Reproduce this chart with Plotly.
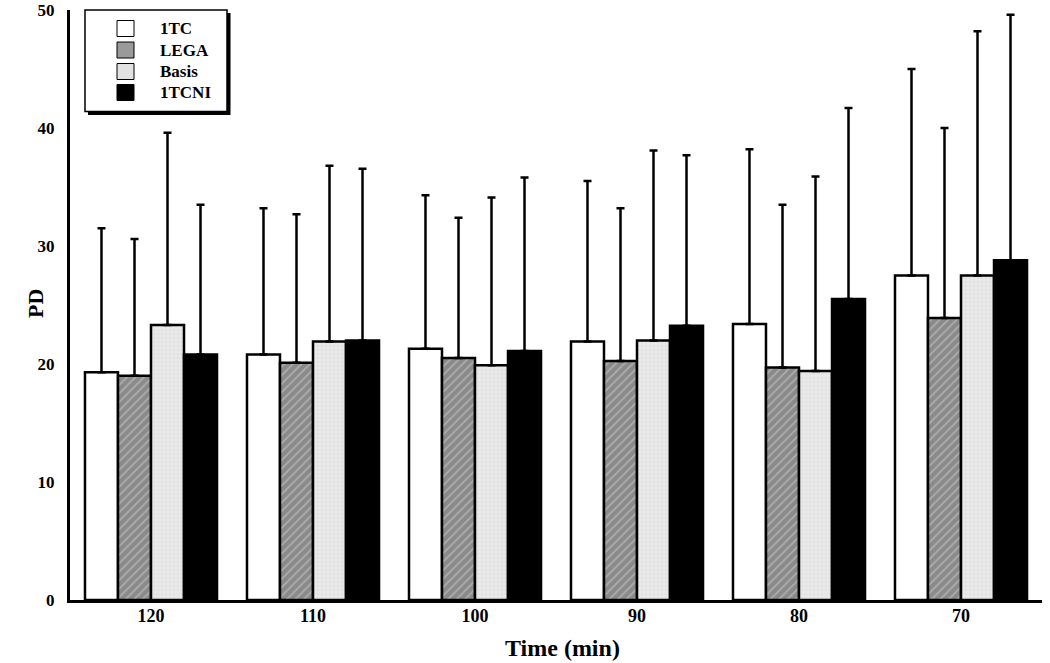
import plotly.graph_objects as go

categories = ["120", "110", "100", "90", "80", "70"]
series_names = ["1TC", "LEGA", "Basis", "1TCNI"]

tc_mean = [19.3, 20.8, 21.3, 21.9, 23.4, 27.5]
tc_top = [31.5, 33.2, 34.3, 35.5, 38.2, 45.0]
lega_mean = [19.0, 20.1, 20.5, 20.25, 19.7, 23.9]
lega_top = [30.6, 32.7, 32.4, 33.2, 33.5, 40.0]
basis_mean = [23.3, 21.9, 19.9, 22.0, 19.4, 27.5]
basis_top = [39.6, 36.8, 34.1, 38.1, 35.9, 48.2]
tcni_mean = [20.8, 22.0, 21.1, 23.25, 25.5, 28.8]
tcni_top = [33.5, 36.55, 35.8, 37.7, 41.7, 49.6]

means = [tc_mean, lega_mean, basis_mean, tcni_mean]
tops = [tc_top, lega_top, basis_top, tcni_top]

FONT = "Liberation Serif, Times New Roman, serif"

styles = [
    dict(color="white", legend="white", pattern=None),
    dict(color="#8a8a8a", legend="#9a9a9a",
         pattern=dict(shape="/", fgcolor="#d0d0d0", bgcolor="#8a8a8a", size=6, solidity=0.3)),
    dict(color="#e6e6e6", legend="#e2e2e2",
         pattern=dict(shape="+", fgcolor="#ffffff", bgcolor="#e2e2e2", size=4, solidity=0.3)),
    dict(color="black", legend="black", pattern=None),
]

fig = go.Figure()
for name, m, t, st in zip(series_names, means, tops, styles):
    sd = [round(b - a, 2) for a, b in zip(m, t)]
    marker = dict(color=st["color"], line=dict(color="black", width=2.5))
    if st["pattern"]:
        marker["pattern"] = st["pattern"]
    fig.add_trace(go.Bar(
        name=name, x=categories, y=m, marker=marker,
        error_y=dict(type="data", symmetric=False, array=sd, arrayminus=[0] * len(sd),
                     color="black", thickness=2.5, width=4),
    ))

L, R, T, B = 70, 8, 10, 63
W, H = 1050, 663
PW, PH = W - L - R, H - T - B


def px_x(p):
    return (p - L) / PW


def px_y(p):
    return (H - B - p) / PH


# legend frame with shadow
fig.add_shape(type="rect", xref="paper", yref="paper", layer="above",
              x0=px_x(88), x1=px_x(230.5), y0=px_y(115), y1=px_y(13),
              fillcolor="black", line=dict(width=0))
fig.add_shape(type="rect", xref="paper", yref="paper", layer="above",
              x0=px_x(85), x1=px_x(227), y0=px_y(111.5), y1=px_y(10),
              fillcolor="white", line=dict(color="black", width=1.5))

centers = [28.5, 50, 71.5, 92.5]
for name, st, cy in zip(series_names, styles, centers):
    fig.add_shape(type="rect", xref="paper", yref="paper", layer="above",
                  x0=px_x(117), x1=px_x(134), y0=px_y(cy + 8), y1=px_y(cy - 8),
                  fillcolor=st["legend"], line=dict(color="black", width=1))
    fig.add_annotation(xref="paper", yref="paper", x=px_x(158), y=px_y(cy),
                       xanchor="left", yanchor="middle", showarrow=False,
                       text=name, font=dict(family=FONT, size=17, weight="bold", color="black"))

fig.add_annotation(xref="paper", yref="paper", x=px_x(562), y=px_y(648),
                   xanchor="center", yanchor="middle", showarrow=False,
                   text="Time (min)", font=dict(family=FONT, size=24, weight="bold", color="black"))
fig.add_annotation(xref="paper", yref="paper", x=px_x(35), y=px_y(304),
                   xanchor="center", yanchor="middle", showarrow=False, textangle=-90,
                   text="PD", font=dict(family=FONT, size=22, weight="bold", color="black"))

fig.update_layout(
    width=W, height=H,
    margin=dict(l=L, r=R, t=T, b=B, autoexpand=False),
    paper_bgcolor="white", plot_bgcolor="white",
    barmode="group", bargap=0.185, bargroupgap=0,
    font=dict(family=FONT, color="black", size=16),
    showlegend=False,
    xaxis=dict(range=[-0.5, 5.5], showline=True, linecolor="black", linewidth=3,
               ticks="", showgrid=False, ticklabelstandoff=-3, automargin=False,
               tickfont=dict(family=FONT, size=18, weight="bold")),
    yaxis=dict(range=[0, 50], showline=True, linecolor="black", linewidth=3,
               ticks="", showgrid=False, zeroline=False, tickvals=[0, 10, 20, 30, 40, 50],
               ticklabelstandoff=9, automargin=False,
               tickfont=dict(family=FONT, size=17, weight="bold")),
)

fig.write_html("out.html", config={"displayModeBar": False},
               post_script="document.body.style.margin='0';document.body.style.overflow='hidden';")
